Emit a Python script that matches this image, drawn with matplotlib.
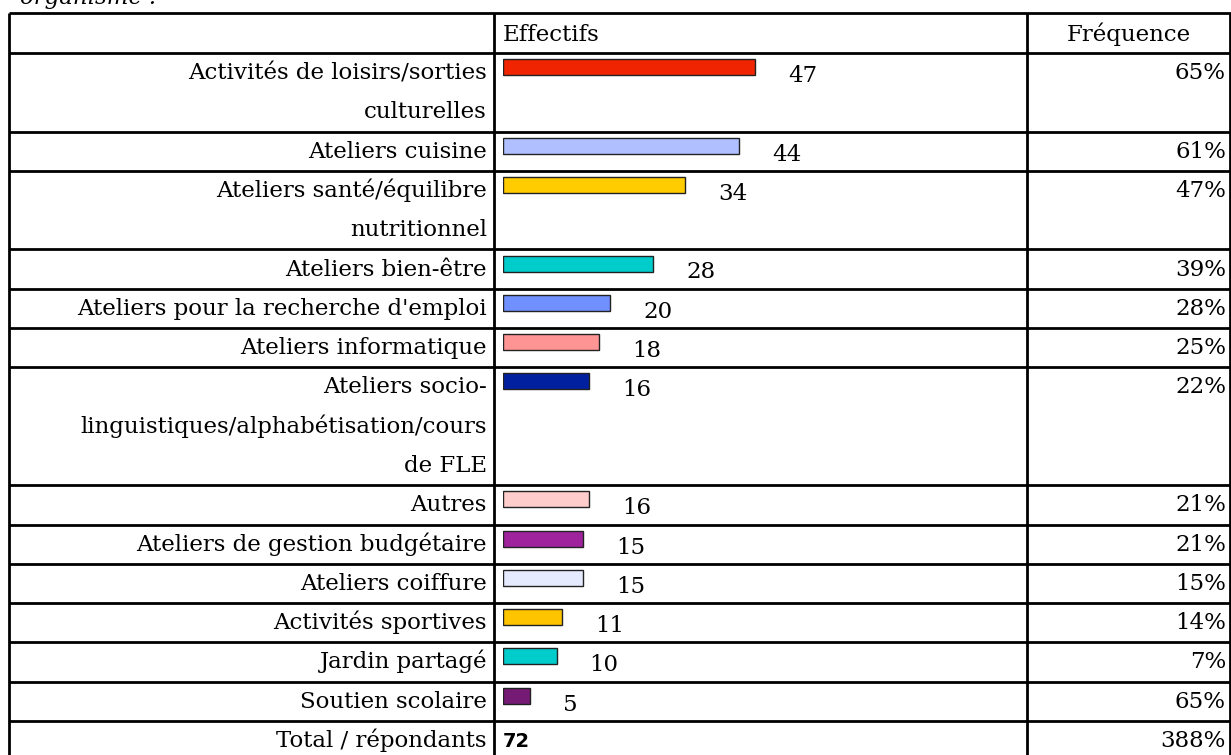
import matplotlib.pyplot as plt

# Table content
categories = [
    "Activités de loisirs/sorties\nculturelles",
    "Ateliers cuisine",
    "Ateliers santé/équilibre\nnutritionnel",
    "Ateliers bien-être",
    "Ateliers pour la recherche d'emploi",
    "Ateliers informatique",
    "Ateliers socio-\nlinguistiques/alphabétisation/cours\nde FLE",
    "Autres",
    "Ateliers de gestion budgétaire",
    "Ateliers coiffure",
    "Activités sportives",
    "Jardin partagé",
    "Soutien scolaire",
]
effectifs = [47, 44, 34, 28, 20, 18, 16, 16, 15, 15, 11, 10, 5]
frequences = ["65%", "61%", "47%", "39%", "28%", "25%", "22%",
              "21%", "21%", "15%", "14%", "7%", "65%"]
headers = ["Effectifs", "Fréquence"]
total_label = "Total / répondants"
total_effectif = 72
total_frequence = "388%"
caption_tail = "organisme :"

bar_colors = ["#F02400", "#AFBFFF", "#FFCC00", "#00CCCC", "#7090FF", "#FF9494",
              "#0020A0", "#FFCCCC", "#A0239E", "#E6EAFF", "#FFC400", "#00CCCC",
              "#751A75"]

# Layout in pixels
W, H = 1231, 755
TOP = 13
HEADER_H = 40
LINE_H = 39.3
X_LEFT, X_COL1, X_COL2, X_RIGHT = 9, 493.5, 1027, 1230
BAR_X0 = 503
PX_PER_UNIT = 5.36
SERIF = "DejaVu Serif"
FS = 16.5

fig = plt.figure(figsize=(W / 100, H / 100), dpi=100)
tab = fig.add_axes([0, 0, 1, 1])
tab.set_xlim(0, W)
tab.set_ylim(H, 0)
tab.axis("off")

bars = fig.add_axes([BAR_X0 / W, 0, (W - BAR_X0) / W, 1])
bars.set_xlim(0, (W - BAR_X0) / PX_PER_UNIT)
bars.set_ylim(H, 0)
bars.axis("off")
bars.patch.set_visible(False)

# row boundaries
row_tops = []
y = TOP + HEADER_H
for cat in categories:
    row_tops.append(y)
    y += LINE_H * (cat.count("\n") + 1)
total_top = y

# cut-off caption at the very top (the reference crops it too)
tab.text(20, 4, caption_tail, family=SERIF, style="italic", fontsize=FS,
         va="baseline", ha="left")

# header
tab.text(BAR_X0, TOP + 28, headers[0], family=SERIF, fontsize=FS, va="baseline")
tab.text((X_COL2 + X_RIGHT) / 2, TOP + 28, headers[1], family=SERIF, fontsize=FS,
         va="baseline", ha="center")

# bars
centers = [t + 14 for t in row_tops]
bars.barh(centers, effectifs, height=16, left=0, color=bar_colors,
          edgecolor="#222222", linewidth=1, zorder=3)

for top, cat, val, freq in zip(row_tops, categories, effectifs, frequences):
    for k, line in enumerate(cat.split("\n")):
        tab.text(487, top + 26 + LINE_H * k, line, family=SERIF, fontsize=FS,
                 ha="right", va="baseline")
    bars.text(val + 33 / PX_PER_UNIT, top + 29, str(val), family=SERIF,
              fontsize=FS, ha="left", va="baseline")
    tab.text(1226, top + 26, freq, family=SERIF, fontsize=FS, ha="right",
             va="baseline")

# total row
tab.text(487, total_top + 26, total_label, family=SERIF, fontsize=FS,
         ha="right", va="baseline")
tab.text(BAR_X0, total_top + 26, str(total_effectif), family="DejaVu Sans",
         fontsize=14, fontweight="bold", ha="left", va="baseline")
tab.text(1226, total_top + 26, total_frequence, family=SERIF, fontsize=FS,
         ha="right", va="baseline")

# grid lines
lw = 2
tab.hlines([TOP, TOP + HEADER_H] + row_tops[1:] + [total_top], X_LEFT, X_RIGHT + 2,
           color="black", linewidth=lw)
tab.vlines([X_LEFT, X_COL1, X_COL2, X_RIGHT], TOP, H, color="black", linewidth=lw)

fig.savefig("out.png", dpi=100)
